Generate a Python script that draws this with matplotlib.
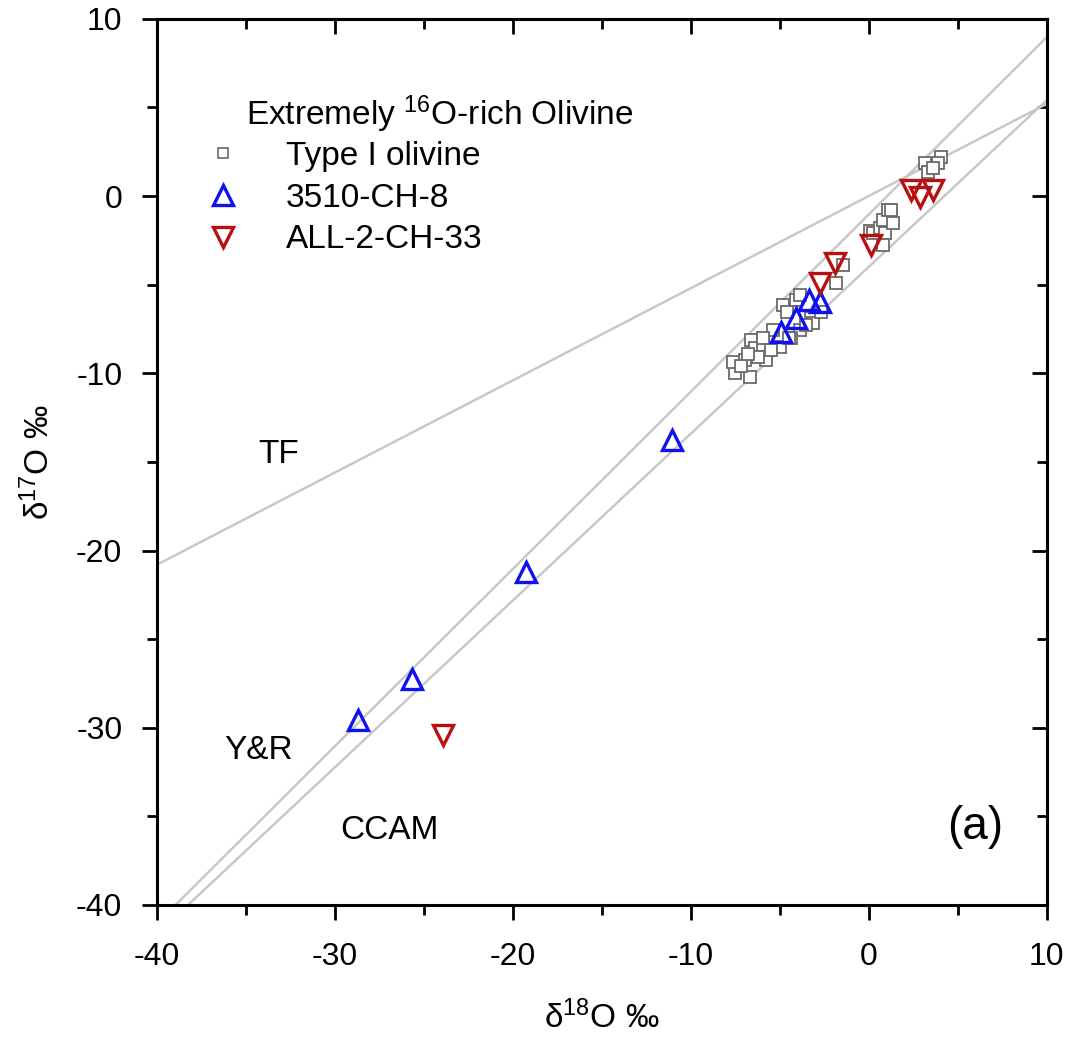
import matplotlib
matplotlib.use("Agg")
import matplotlib.pyplot as plt
from matplotlib.ticker import FuncFormatter
from matplotlib.lines import Line2D
import numpy as np

plt.rcParams['font.family'] = ['Liberation Sans', 'DejaVu Sans']
plt.rcParams['mathtext.fontset'] = 'custom'
plt.rcParams['mathtext.rm'] = 'Liberation Sans'
plt.rcParams['mathtext.it'] = 'Liberation Sans:italic'

# Type I olivine (d18O, d17O)
type1_x = [-7.53, -7.62, -6.69, -6.97, -6.60, -6.40, -5.94, -5.75, -6.22, -5.00,
           -4.81, -4.62, -4.06, -3.88, -3.22, -3.13, -3.88, -4.35, -5.38, -5.94,
           -2.66, -7.2, -6.8, -5.5, -4.5, -3.5,
           -1.82, -1.46, 0.06, 0.24, 0.62, 0.80, 0.90, 0.80, 1.08, 1.37,
           3.15, 4.08, 3.89, 3.33, 3.60, 1.27]
type1_y = [-10.0, -9.34, -10.19, -9.24, -8.12, -8.59, -8.40, -9.24, -9.06, -8.49,
           -6.14, -6.52, -5.86, -5.58, -6.89, -7.17, -7.55, -8.02, -7.55, -8.02,
           -6.52, -9.6, -8.9, -8.7, -8.0, -7.3,
           -4.92, -3.88, -2.00, -2.09, -1.81, -1.34, -2.08, -2.75, -0.78, -1.53,
           1.86, 2.23, 1.86, 1.38, 1.57, -0.78]

# 3510-CH-8
ch8_x = [-28.69, -25.66, -19.27, -11.07, -4.94, -4.10, -3.37, -2.75]
ch8_y = [-29.58, -27.25, -21.2, -13.76, -7.66, -6.90, -5.87, -6.00]

# ALL-2-CH-33
ch33_x = [-23.95, -2.75, -1.91, 0.15, 2.40, 2.87, 3.60]
ch33_y = [-30.4, -4.9, -3.77, -2.79, 0.35, -0.07, 0.35]

# reference lines: (slope, intercept)
tf_line = (0.52, 0.0)
yr_line = (1.0, -1.04)
ccam_line = (0.941, -4.0)

major_ticks = [-40, -30, -20, -10, 0, 10]
minor_ticks = [-35, -25, -15, -5, 5]

fig = plt.figure(figsize=(10.68, 10.45), dpi=100)
ax = fig.add_axes([0.147, 0.134, 0.833, 0.848])

xx = np.array([-45, 15])
for m, b in (tf_line, yr_line, ccam_line):
    ax.plot(xx, m * xx + b, color='#c6c6c6', lw=1.7, zorder=1)

ax.plot(type1_x, type1_y, 's', ms=8.5, mfc='white', mec='#6a6a6a', mew=1.3,
        ls='none', zorder=2)
ax.plot(ch8_x, ch8_y, '^', ms=15, mfc='none', mec='#1010f0', mew=2.4,
        ls='none', zorder=3)
ax.plot(ch33_x, ch33_y, 'v', ms=15, mfc='none', mec='#b81010', mew=2.4,
        ls='none', zorder=3)

ax.set_xlim(-40, 10)
ax.set_ylim(-40, 10)
ax.set_xticks(major_ticks)
ax.set_yticks(major_ticks)
ax.set_xticks(minor_ticks, minor=True)
ax.set_yticks(minor_ticks, minor=True)
fmt = FuncFormatter(lambda v, p: f"{v:.0f}")
ax.xaxis.set_major_formatter(fmt)
ax.yaxis.set_major_formatter(fmt)

for s in ax.spines.values():
    s.set_linewidth(2.2)

ax.tick_params(axis='x', which='major', direction='out', length=11, width=2.0,
               labelsize=23, pad=16)
ax.tick_params(axis='y', which='major', direction='out', length=11, width=2.0,
               labelsize=23, pad=14)
ax.tick_params(which='minor', direction='out', length=7, width=2.0)

secx = ax.secondary_xaxis('top')
secx.set_xticks(major_ticks)
secx.set_xticks(minor_ticks, minor=True)
secx.tick_params(which='major', direction='in', length=11, width=2.0, labeltop=False)
secx.tick_params(which='minor', direction='in', length=7, width=2.0)
secx.spines['top'].set_linewidth(2.2)
secy = ax.secondary_yaxis('right')
secy.set_yticks(major_ticks)
secy.set_yticks(minor_ticks, minor=True)
secy.tick_params(which='major', direction='in', length=11, width=2.0, labelright=False)
secy.tick_params(which='minor', direction='in', length=7, width=2.0)
secy.spines['right'].set_linewidth(2.2)

ax.set_xlabel('δ$^{18}$O ‰', fontsize=24, labelpad=20)
ax.set_ylabel('δ$^{17}$O ‰', fontsize=24, labelpad=14)

ax.text(-35.0, 4.0, 'Extremely $^{16}$O-rich Olivine', fontsize=24, ha='left',
        va='baseline')

handles = [
    Line2D([], [], marker='s', ms=7, mfc='white', mec='#6a6a6a', mew=1.2, ls='none'),
    Line2D([], [], marker='^', ms=14, mfc='none', mec='#1010f0', mew=2.4, ls='none'),
    Line2D([], [], marker='v', ms=14, mfc='none', mec='#b81010', mew=2.4, ls='none'),
]
labels = ['Type I olivine', '3510-CH-8', 'ALL-2-CH-33']
ax.legend(handles, labels, loc='upper left', bbox_to_anchor=(0.040, 0.877),
          frameon=False, fontsize=24, handlelength=1.0, handletextpad=1.4,
          labelspacing=0.32, borderaxespad=0)

ax.text(-34.3, -14.6, 'TF', fontsize=24, ha='left', va='center')
ax.text(-36.2, -31.3, 'Y&R', fontsize=24, ha='left', va='center')
ax.text(-29.7, -35.8, 'CCAM', fontsize=24, ha='left', va='center')
ax.text(6.0, -35.6, '(a)', fontsize=33, ha='center', va='center')

fig.savefig('out.png', dpi=100)
